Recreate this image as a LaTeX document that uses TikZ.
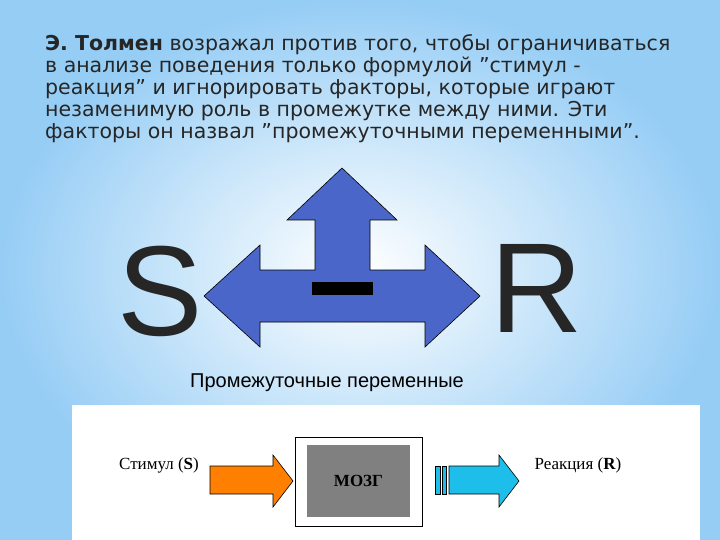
\documentclass[tikz,border=0pt]{standalone}
\usepackage{fontspec}
\setmainfont{DejaVu Sans}
\newfontfamily\myarial{Liberation Sans}
\newfontfamily\mytimes{Liberation Serif}
\definecolor{bgblue}{RGB}{150,205,245}
\definecolor{arrblue}{RGB}{74,102,200}
\definecolor{skyarr}{RGB}{30,190,235}
\begin{document}
\begin{tikzpicture}[x=1pt,y=-1pt,
  tline/.style={anchor=west,inner sep=0,font=\fontsize{20.5}{22}\selectfont,text=black!85},
  bigletter/.style={font=\myarial\fontsize{128}{128}\selectfont,inner sep=0,text=black!85},
  blk/.style={draw=black,line width=0.6pt}]
\useasboundingbox (0,0) rectangle (720,540);
\shade[inner color=white,outer color=bgblue] (0,0) rectangle (720,540);
\fill[white] (72,405) rectangle (700,540);
\node[tline] (l1) at (45,45) {\textbf{Э. Толмен} возражал против того, чтобы ограничиваться};
\node[tline] (l2) at (45,67) {в анализе поведения только формулой \char"22 стимул -};
\node[tline] (l3) at (45,89) {реакция\char"22{} и игнорировать факторы, которые играют};
\node[tline] (l4) at (45,111) {незаменимую роль в промежутке между ними. Эти};
\node[tline] (l5) at (45,133) {факторы он назвал \char"22 промежуточными переменными\char"22.};
\node[bigletter] (S) at (160,291) {S};
\node[bigletter] (R) at (537,288) {R};
\filldraw[fill=arrblue,blk]
 (204,296) -- (260,245) -- (260,270) -- (315,270) -- (315,220) -- (287,220) -- (342,168)
 -- (397,220) -- (370,220) -- (370,270) -- (425,270) -- (425,245) -- (480,296)
 -- (425,347) -- (425,322) -- (260,322) -- (260,347) -- cycle;
\fill[black] (312,282) rectangle (373,295);
\node[font=\myarial\fontsize{20}{22}\selectfont,inner sep=0] (pp) at (327,383) {Промежуточные переменные};
\filldraw[fill=orange,blk] (210,466) -- (273,466) -- (273,455) -- (293,481) -- (273,507) -- (273,494) -- (210,494) -- cycle;
\draw[line width=1pt,fill=white] (295,437) rectangle (422,526);
\node[fill=gray,minimum width=103pt,minimum height=72pt,inner sep=0,font=\mytimes\bfseries\fontsize{17}{17}\selectfont] (brain) at (358.5,481) {МОЗГ};
\filldraw[fill=skyarr,blk] (435,466) rectangle (440,494);
\filldraw[fill=skyarr,blk] (442,466) rectangle (446,494);
\filldraw[fill=skyarr,blk] (449,466) -- (499,466) -- (499,455) -- (519,481) -- (499,507) -- (499,494) -- (449,494) -- cycle;
\node[font=\mytimes\fontsize{17}{17}\selectfont,inner sep=0] (st) at (159,465) {Стимул (\textbf{S})};
\node[font=\mytimes\fontsize{17}{17}\selectfont,inner sep=0] (re) at (578,465) {Реакция (\textbf{R})};
\end{tikzpicture}
\end{document}
